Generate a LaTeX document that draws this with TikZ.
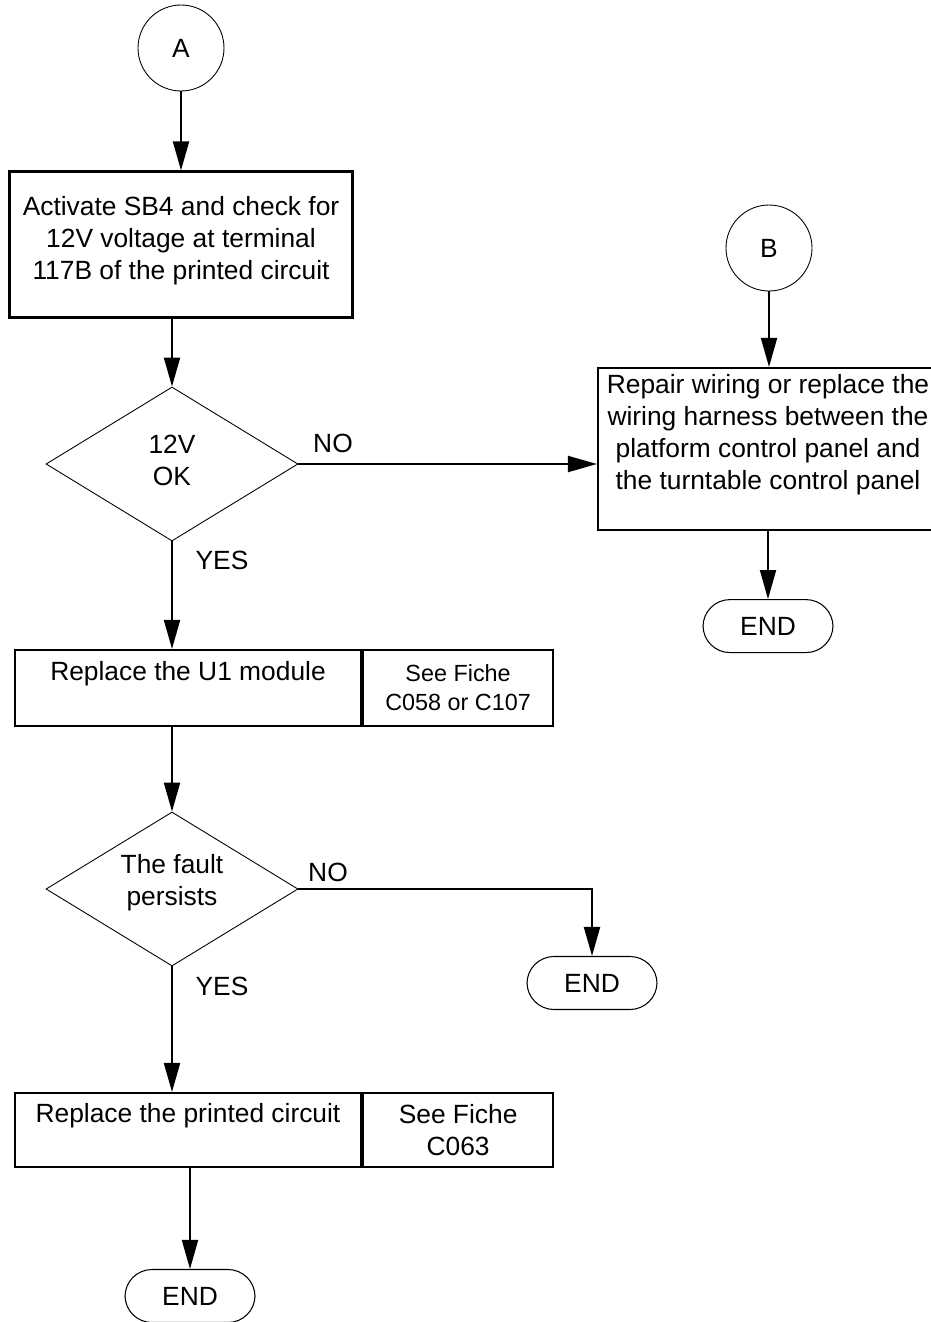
\documentclass[tikz,border=0pt]{standalone}
\usepackage{fontspec}
\setmainfont{Liberation Sans}
\usetikzlibrary{positioning,shapes.geometric,arrows.meta}

\tikzset{
    txt/.style={font=\fontsize{15}{18.2}\selectfont, align=center, inner sep=0pt},
    reftxt/.style={font=\fontsize{13.3}{16.5}\selectfont, align=center},
    conn/.style={draw, circle, line width=0.5pt, minimum size=1.72cm, txt},
    procbox/.style={draw, rectangle, line width=1.2pt},
    decision/.style={draw, diamond, aspect=1.64, line width=0.5pt, minimum width=5.04cm, minimum height=3.08cm, txt},
    endnode/.style={draw, rectangle, rounded corners=0.54cm, line width=0.6pt, minimum width=2.6cm, minimum height=1.06cm, txt},
    flow/.style={line width=1.1pt, -{Triangle[length=0.58cm,width=0.32cm]}},
}

\begin{document}
\begin{tikzpicture}
                    \useasboundingbox (0,0) rectangle (18.62,-26.44);

                    \node[conn] (A) at (3.62,-0.96) {A};
                    \node[procbox, minimum width=6.86cm, minimum height=2.92cm, below=1.58cm of A] (chk) {};
                    \node[txt, below=0.52cm of chk.north] (chktxt) {Activate SB4 and check for\\12V voltage at terminal\\117B of the printed circuit};

                    \node[decision] (d1) at (3.44,-9.28) {12V\\OK\rule[-4.5pt]{0pt}{4.5pt}};
                    \node[txt] (no1) at (6.66,-8.86) {NO};
                    \node[txt] (yes1) at (4.44,-11.2) {YES};

                    \node[procbox, minimum width=6.92cm, minimum height=1.52cm] (u1) at (3.76,-13.76) {};
                    \node[txt, below=0.24cm of u1.north] (u1txt) {Replace the U1 module};
                    \node[procbox, reftxt, minimum width=3.8cm, minimum height=1.52cm, right=0cm of u1] (u1ref) {See Fiche\\C058 or C107};

                    \node[decision] (d2) at (3.44,-17.78) {The fault\\persists\rule[-10pt]{0pt}{10pt}};
                    \node[txt] (no2) at (6.56,-17.44) {NO};
                    \node[txt] (yes2) at (4.44,-19.72) {YES};
                    \node[endnode] (end2) at (11.84,-19.66) {END};

                    \node[procbox, minimum width=6.92cm, minimum height=1.48cm] (pcb) at (3.76,-22.6) {};
                    \node[txt, below=0.22cm of pcb.north] (pcbtxt) {Replace the printed circuit};
                    \node[procbox, txt, minimum width=3.8cm, minimum height=1.48cm, right=0cm of pcb] (pcbref) {See Fiche\\C063};
                    \node[endnode] (end3) at (3.8,-25.92) {END};

                    \node[conn] (B) at (15.38,-4.96) {B};
                    \node[procbox, minimum width=6.8cm, minimum height=3.24cm] (rep) at (15.36,-8.98) {};
                    \node[txt, below=0.14cm of rep.north] (reptxt) {Repair wiring or replace the\\wiring harness between the\\platform control panel and\\the turntable control panel};
                    \node[endnode, below=1.36cm of rep] (end1) {END};

                    \draw[flow] (A) -- (chk);
                    \draw[flow] (chk.south -| d1.north) -- (d1.north);
                    \draw[flow] (d1.east) -- (d1.east -| rep.west);
                    \draw[flow] (d1.south) -- (d1.south |- u1.north);
                    \draw[flow] (u1.south -| d2.north) -- (d2.north);
                    \draw[flow] (d2.east) -| (end2.north);
                    \draw[flow] (d2.south) -- (d2.south |- pcb.north);
                    \draw[flow] (pcb.south -| end3.north) -- (end3.north);
                    \draw[flow] (B.south) -- (B.south |- rep.north);
                    \draw[flow] (rep.south -| end1.north) -- (end1.north);
\end{tikzpicture}
\end{document}
